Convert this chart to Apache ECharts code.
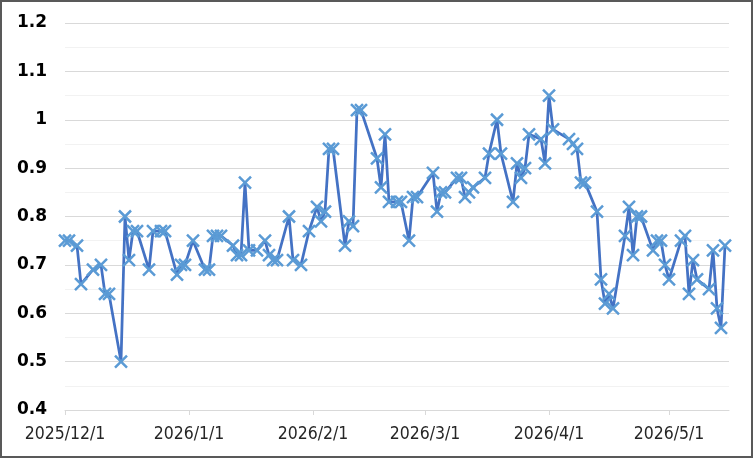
<!DOCTYPE html>
<html>
<head>
<meta charset="utf-8">
<script src="https://cdn.jsdelivr.net/npm/echarts@6/dist/echarts.min.js"></script>
<style>
html,body{margin:0;padding:0;background:#fff;}
#wrap{width:753px;height:458px;box-sizing:border-box;border:2px solid #595959;overflow:hidden;}
#chart{width:749px;height:454px;}
</style>
</head>
<body>
<div id="wrap"><div id="chart"></div></div>
<script>
const dates = [
'2025-12-01','2025-12-02','2025-12-04','2025-12-05','2025-12-08','2025-12-10','2025-12-11','2025-12-12','2025-12-15','2025-12-16','2025-12-17','2025-12-18','2025-12-19','2025-12-22','2025-12-23','2025-12-25','2025-12-26','2025-12-29','2025-12-30','2025-12-31',
'2026-01-02','2026-01-05','2026-01-06','2026-01-07','2026-01-08','2026-01-09','2026-01-12','2026-01-13','2026-01-14','2026-01-15','2026-01-16','2026-01-18','2026-01-20','2026-01-21','2026-01-22','2026-01-23','2026-01-26','2026-01-27','2026-01-29','2026-01-31',
'2026-02-02','2026-02-03','2026-02-04','2026-02-05','2026-02-06','2026-02-09','2026-02-10','2026-02-11','2026-02-12','2026-02-13','2026-02-17','2026-02-18','2026-02-19','2026-02-20','2026-02-22','2026-02-23','2026-02-25','2026-02-26','2026-02-27',
'2026-03-03','2026-03-04','2026-03-05','2026-03-06','2026-03-09','2026-03-10','2026-03-11','2026-03-12','2026-03-13','2026-03-16','2026-03-17','2026-03-19','2026-03-20','2026-03-23','2026-03-24','2026-03-25','2026-03-26','2026-03-27','2026-03-30','2026-03-31',
'2026-04-01','2026-04-02','2026-04-06','2026-04-07','2026-04-08','2026-04-09','2026-04-10','2026-04-13','2026-04-14','2026-04-15','2026-04-16','2026-04-17','2026-04-20','2026-04-21','2026-04-22','2026-04-23','2026-04-24','2026-04-27','2026-04-28','2026-04-29','2026-04-30',
'2026-05-01','2026-05-04','2026-05-05','2026-05-06','2026-05-07','2026-05-08','2026-05-11','2026-05-12','2026-05-13','2026-05-14','2026-05-15'
];
const values = [
0.75,0.75,0.74,0.66,0.69,0.70,0.64,0.64,0.50,0.80,0.71,0.77,0.77,0.69,0.77,0.77,0.77,0.68,0.70,0.70,
0.75,0.69,0.69,0.76,0.76,0.76,0.74,0.72,0.72,0.87,0.73,0.73,0.75,0.72,0.71,0.71,0.80,0.71,0.70,0.77,
0.82,0.79,0.81,0.94,0.94,0.74,0.79,0.78,1.02,1.02,0.92,0.86,0.97,0.83,0.83,0.83,0.75,0.84,0.84,
0.89,0.81,0.85,0.85,0.88,0.88,0.84,0.85,0.86,0.88,0.93,1.00,0.93,0.83,0.91,0.88,0.90,0.97,0.96,0.91,
1.05,0.98,0.96,0.95,0.94,0.87,0.87,0.81,0.67,0.62,0.64,0.61,0.76,0.82,0.72,0.80,0.80,0.73,0.75,0.75,0.70,
0.67,0.75,0.76,0.64,0.71,0.67,0.65,0.73,0.61,0.57,0.74
];
const xTicks = ['2025-12-01','2026-01-01','2026-02-01','2026-03-01','2026-04-01','2026-05-01'];
const xMin = '2025-12-01';
const xMax = '2026-05-16';

function toTime(s){ const p = s.split('-').map(Number); return new Date(p[0], p[1]-1, p[2]).getTime(); }

const chart = echarts.init(document.getElementById('chart'));
chart.setOption({
  animation: false,
  grid: { left: 63, right: 22, top: 21, bottom: 46, containLabel: false },
  xAxis: {
    type: 'value',
    min: toTime(xMin),
    max: toTime(xMax),
    axisLine: { show: true, lineStyle: { color: '#d9d9d9', width: 1 } },
    axisTick: { show: true, length: 5, lineStyle: { color: '#d9d9d9' }, customValues: xTicks.map(toTime) },
    axisLabel: {
      customValues: xTicks.map(toTime),
      color: '#262626',
      fontSize: 17.5,
      fontFamily: "'DejaVu Sans Condensed', sans-serif",
      margin: 15,
      hideOverlap: false,
      formatter: function (v) { const d = new Date(v); return d.getFullYear() + '/' + (d.getMonth()+1) + '/' + d.getDate(); }
    },
    splitLine: { show: false }
  },
  yAxis: {
    type: 'value',
    min: 0.4, max: 1.2, interval: 0.1,
    axisLine: { show: false },
    axisTick: { show: false },
    axisLabel: {
      color: '#000', fontSize: 17, fontWeight: 'bold', fontFamily: "'DejaVu Sans', sans-serif", margin: 18,
      formatter: function (v) { return String(Math.round(v*10)/10); }
    },
    splitLine: { show: true, lineStyle: { color: '#d9d9d9', width: 1 } },
    minorTick: { show: false, splitNumber: 2 },
    minorSplitLine: { show: true, lineStyle: { color: '#f2f2f2', width: 1 } }
  },
  series: [{
    type: 'line',
    data: dates.map((d, i) => [toTime(d), values[i]]),
    symbol: 'path://M0,0 L10,10 M10,0 L0,10',
    symbolSize: 12,
    showAllSymbol: true,
    lineStyle: { color: '#4472C4', width: 2.75 },
    itemStyle: { color: 'rgba(0,0,0,0)', borderColor: '#5B9BD5', borderWidth: 2.5 },
    z: 3
  }]
});
</script>
</body>
</html>
